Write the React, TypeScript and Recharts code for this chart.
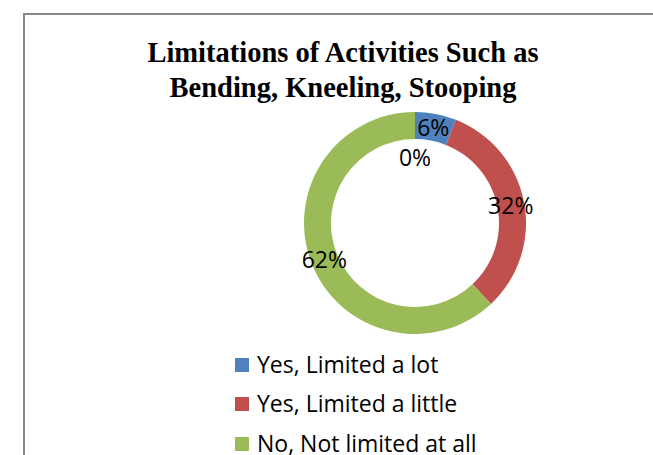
import React from "react";
import { PieChart, Pie, Cell, Legend } from "recharts";

const categories = [
  "Yes, Limited a lot",
  "Yes, Limited a little",
  "No, Not limited at all",
  "Other",
];
const values = [6, 32, 62, 0];
const colors = ["#4F81BD", "#C0504D", "#9BBB59", "#8064A2"];
const titleLines = ["Limitations of Activities Such as", "Bending, Kneeling, Stooping"];

const data = categories.map((name, i) => ({ name, value: values[i] }));

const RADIAN = Math.PI / 180;
const LABEL_FONT = "'Open Sans', 'Noto Sans', sans-serif";

const renderLabel = (props: any) => {
  const { cx, cy, midAngle, innerRadius, outerRadius, value, index } = props;
  const r = value === 0 ? innerRadius - 18 : (innerRadius + outerRadius) / 2;
  const x = cx + r * Math.cos(-midAngle * RADIAN);
  const y = cy + r * Math.sin(-midAngle * RADIAN);
  return (
    <text
      key={`lbl-${index}`}
      x={x}
      y={y}
      textAnchor="middle"
      dominantBaseline="central"
      fill="#000"
      fontSize={23}
      fontFamily={LABEL_FONT}
    >
      {`${value}%`}
    </text>
  );
};

const renderLegend = () => (
  <div style={{ fontFamily: LABEL_FONT, fontSize: 23, lineHeight: 0.85, color: "#000" }}>
    {data
      .filter((d) => d.value > 0)
      .map((d, i) => (
        <div key={d.name} style={{ display: "flex", alignItems: "center", height: 39.5 }}>
          <span
            style={{
              display: "inline-block",
              width: 14,
              height: 14,
              background: colors[i],
              marginRight: 8,
            }}
          />
          <span>{d.name}</span>
        </div>
      ))}
  </div>
);

export default function App() {
  return (
    <div
      style={{
        position: "absolute",
        left: 0,
        top: 0,
        width: 653,
        height: 455,
        overflow: "hidden",
        background: "#fff",
      }}
    >
      <div
        style={{
          position: "absolute",
          left: 23,
          top: 13,
          width: 700,
          height: 600,
          border: "2px solid #878787",
        }}
      />
      <svg width={653} height={455} style={{ position: "absolute", left: 0, top: 0 }}>
        {titleLines.map((t, i) => (
          <text
            key={t}
            x={343}
            y={62 + i * 35}
            textAnchor="middle"
            fontFamily="'Liberation Serif', serif"
            fontWeight="bold"
            fontSize={28.5}
            fill="#000"
          >
            {t}
          </text>
        ))}
      </svg>
      <div style={{ position: "absolute", left: 0, top: 0 }}>
        <PieChart width={653} height={455} margin={{ top: 0, right: 0, bottom: 0, left: 0 }}>
          <Pie
            data={data}
            dataKey="value"
            nameKey="name"
            cx={415}
            cy={223}
            innerRadius={84}
            outerRadius={111}
            startAngle={90}
            endAngle={-270}
            stroke="none"
            label={renderLabel}
            labelLine={false}
            isAnimationActive={false}
          >
            {data.map((d, i) => (
              <Cell key={d.name} fill={colors[i]} />
            ))}
          </Pie>
          <Legend
            content={renderLegend}
            layout="vertical"
            wrapperStyle={{ position: "absolute", left: 235, top: 345, width: 300 }}
          />
        </PieChart>
      </div>
    </div>
  );
}
